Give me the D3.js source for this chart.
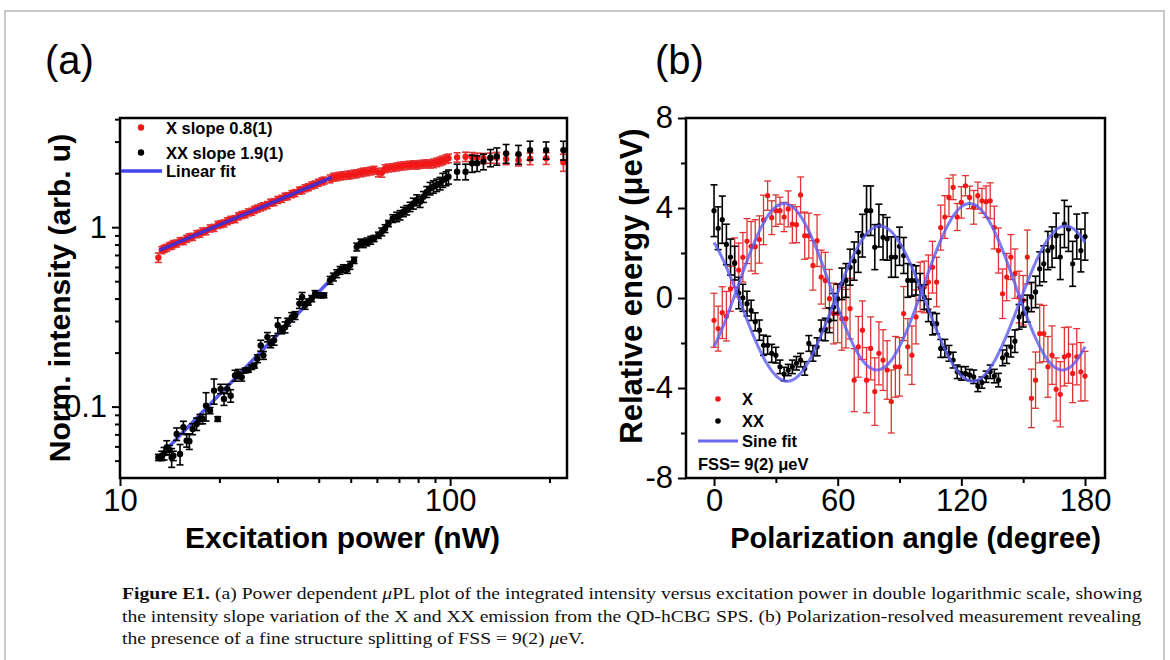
<!DOCTYPE html>
<html>
<head>
<meta charset="utf-8">
<script src="https://cdn.jsdelivr.net/npm/d3@7"></script>
<style>
    body { margin: 0; background: #fff; }
    svg { display: block; }
</style>
</head>
<body>
<div class="fig"></div>
<script>
// ---------- panel (a): power dependence ----------
const power = [13.07, 13.38, 13.60, 13.85, 14.11, 14.34, 14.51, 14.85, 15.20, 15.56,
    15.92, 16.22, 16.60, 17.07, 17.47, 17.80, 18.22, 18.74, 19.27, 19.77,
    20.18, 20.66, 21.14, 21.64, 22.31, 22.84, 23.37, 23.92, 24.48, 25.06,
    25.53, 26.07, 26.69, 27.19, 27.96, 28.61, 29.29, 30.05, 30.90, 31.62,
    32.22, 33.13, 33.91, 34.95, 35.61, 36.36, 37.21, 38.08, 38.98, 39.90,
    40.83, 41.51, 43.29, 44.31, 45.35, 46.42, 47.51, 48.85, 49.77, 51.18,
    52.14, 53.61, 54.62, 55.91, 57.49, 58.84, 60.65, 62.08, 63.53, 65.03,
    67.03, 68.92, 70.54, 72.21, 73.91, 75.64, 77.42, 79.25, 81.11, 83.02,
    84.96, 86.96, 89.00, 91.10, 93.26, 95.00, 97.25, 98.86,
    105.0, 111.4, 116.6, 120.7, 126.2, 132.5, 138.5, 147.8, 161.1, 174.7, 195.4, 220.4]

const intX = [0.677, 0.745, 0.758, 0.768, 0.785, 0.790, 0.806, 0.812, 0.836, 0.838,
    0.862, 0.880, 0.884, 0.915, 0.921, 0.947, 0.951, 0.985, 0.992, 1.03,
    1.04, 1.05, 1.08, 1.10, 1.11, 1.15, 1.17, 1.18, 1.21, 1.22,
    1.25, 1.27, 1.29, 1.31, 1.33, 1.37, 1.38, 1.42, 1.44, 1.48,
    1.49, 1.53, 1.55, 1.60, 1.61, 1.65, 1.67, 1.71, 1.73, 1.77,
    1.80, 1.82, 1.86, 1.90, 1.91, 1.93, 1.94, 1.95, 1.96, 1.98,
    1.99, 2.01, 2.03, 2.04, 2.06, 2.08, 2.02, 2.01, 2.12, 2.14,
    2.15, 2.17, 2.19, 2.20, 2.21, 2.22, 2.23, 2.22, 2.24, 2.25,
    2.26, 2.25, 2.27, 2.30, 2.33, 2.36, 2.40, 2.42,
    2.45, 2.47, 2.46, 2.44, 2.42, 2.43, 2.44, 2.40, 2.36, 2.41, 2.42, 2.30]

// relative errors
const errX = [0.06, 0.045, 0.045, 0.045, 0.045, 0.045, 0.045, 0.045, 0.045, 0.045,
    0.045, 0.045, 0.045, 0.045, 0.045, 0.045, 0.045, 0.045, 0.045, 0.045,
    0.045, 0.045, 0.045, 0.045, 0.045, 0.045, 0.045, 0.045, 0.045, 0.045,
    0.045, 0.045, 0.045, 0.045, 0.045, 0.045, 0.045, 0.045, 0.045, 0.045,
    0.045, 0.045, 0.045, 0.045, 0.045, 0.045, 0.045, 0.045, 0.045, 0.045,
    0.045, 0.045, 0.05, 0.05, 0.05, 0.05, 0.05, 0.05, 0.05, 0.05,
    0.05, 0.05, 0.05, 0.05, 0.05, 0.05, 0.055, 0.055, 0.05, 0.05,
    0.05, 0.05, 0.05, 0.05, 0.05, 0.05, 0.05, 0.05, 0.05, 0.05,
    0.05, 0.05, 0.055, 0.055, 0.055, 0.055, 0.055, 0.055,
    0.06, 0.06, 0.06, 0.06, 0.065, 0.065, 0.07, 0.07, 0.07, 0.075, 0.075, 0.11]

const intXX = [0.0521, 0.0532, 0.0548, 0.0592, 0.0573, 0.0521, 0.0532, 0.0704, 0.0544, 0.0767,
    0.0646, 0.0641, 0.075, 0.080, 0.0853, 0.0853, 0.1013, 0.095, 0.1228, 0.0853,
    0.1256, 0.1104, 0.1256, 0.115, 0.149, 0.152, 0.146, 0.159, 0.160, 0.166,
    0.169, 0.185, 0.219, 0.193, 0.244, 0.224, 0.234, 0.284, 0.268, 0.277,
    0.296, 0.315, 0.322, 0.375, 0.408, 0.367, 0.383, 0.400, 0.426, 0.417,
    0.417, 0.417, 0.506, 0.528, 0.551, 0.575, 0.588, 0.582, 0.613, 0.654,
    0.776, 0.817, 0.810, 0.828, 0.846, 0.865, 0.902, 0.942, 0.983, 1.048,
    1.118, 1.142, 1.167, 1.218, 1.245, 1.299, 1.356, 1.415, 1.385, 1.477,
    1.574, 1.644, 1.680, 1.717, 1.754, 1.830, 1.870, 1.910,
    2.04, 2.04, 2.27, 2.27, 2.32, 2.44, 2.49, 2.58, 2.55, 2.69, 2.69, 2.69]

const errXX = [0.04, 0.06, 0.08, 0.09, 0.06, 0.12, 0.06, 0.08, 0.13, 0.08,
    0.08, 0.10, 0.07, 0.08, 0.06, 0.06, 0.18, 0.04, 0.16, 0.03,
    0.06, 0.08, 0.06, 0.08, 0.07, 0.06, 0.05, 0.03, 0.03, 0.03,
    0.03, 0.05, 0.07, 0.05, 0.06, 0.05, 0.06, 0.10, 0.05, 0.07,
    0.05, 0.06, 0.05, 0.06, 0.06, 0.05, 0.04, 0.04, 0.04, 0.03,
    0.03, 0.03, 0.05, 0.05, 0.05, 0.05, 0.05, 0.05, 0.05, 0.04,
    0.05, 0.05, 0.05, 0.05, 0.05, 0.04, 0.04, 0.05, 0.05, 0.04,
    0.05, 0.06, 0.06, 0.06, 0.06, 0.06, 0.07, 0.07, 0.07, 0.07,
    0.07, 0.08, 0.08, 0.08, 0.08, 0.09, 0.09, 0.09,
    0.10, 0.10, 0.11, 0.10, 0.10, 0.11, 0.11, 0.12, 0.12, 0.12, 0.11, 0.12]

// linear fits (end points in log-log)
const fitLineX = [[13.2, 0.744], [43.8, 1.896]]
const fitLineXX = [[14.0, 0.0592], [44.5, 0.533]]

const ticksA_x = [10, 100]
const minorA_x = [20, 30, 40, 50, 60, 70, 80, 90, 200]
const ticksA_y = [0.1, 1]
const minorA_y = [0.05, 0.06, 0.07, 0.08, 0.09, 0.2, 0.3, 0.4, 0.5, 0.6, 0.7, 0.8, 0.9, 2, 3, 4]

// ---------- panel (b): polarization ----------
const angle = [0, 2, 4, 6, 8, 10, 12, 14, 16, 18, 20, 22, 24, 26, 28, 30, 32, 34, 36, 38,
    40, 42, 44, 46, 48, 50, 52, 54, 56, 58, 60, 62, 64, 66, 68, 70, 72, 74, 76, 78,
    80, 82, 84, 86, 88, 90, 92, 94, 96, 98, 100, 102, 104, 106, 108, 110, 112, 114, 116, 118,
    120, 122, 124, 126, 128, 130, 132, 134, 136, 138, 140, 142, 144, 146, 148, 150, 152, 154, 156, 158,
    160, 162, 164, 166, 168, 170, 172, 174, 176, 178, 180]

const energyX = [-0.99, -1.36, -0.65, -0.81, 0.41, 1.57, 1.24, 1.81, 2.53, 2.30,
    2.28, 2.60, 3.47, 4.55, 3.57, 3.88, 3.88, 3.60, 3.96, 3.29,
    3.26, 4.58, 2.77, 2.77, 1.45, 2.55, 0.93, 0.78, -0.03, -0.69,
    -0.69, -0.92, -0.92, -0.47, -3.65, -2.17, -1.43, -3.65, -2.24, -4.16,
    -2.46, -2.76, -3.20, -4.60, -3.06, -3.06, -0.69, -2.17, -2.54, -0.84,
    0.49, 0.49, 0.71, 1.37, 0.71, 3.13, 3.60, 4.47, 4.92, 3.60,
    4.25, 4.99, 4.47, 4.03, 4.55, 4.32, 4.28, 4.32, 3.13, 2.11,
    0.19, 0.93, 1.82, 1.08, 0.04, -0.10, 1.82, -4.46, -3.65, -1.58,
    -1.58, -3.06, -2.54, -4.06, -4.28, -2.61, -2.54, -3.35, -2.61, -3.28, -3.47]

const errEX = [1.2, 1.0, 1.15, 1.1, 1.0, 1.1, 1.2, 1.1, 1.0, 1.1,
    1.2, 1.05, 1.1, 0.65, 0.75, 0.7, 0.6, 0.65, 0.8, 0.85,
    0.8, 0.8, 1.05, 1.0, 1.1, 1.15, 1.2, 1.25, 1.3, 1.35,
    1.3, 1.4, 1.3, 1.35, 1.4, 1.35, 1.3, 1.45, 1.4, 1.5,
    1.4, 1.35, 1.3, 1.4, 1.35, 1.3, 1.2, 1.25, 1.3, 1.2,
    1.1, 1.15, 1.2, 1.15, 1.1, 1.0, 0.95, 0.85, 0.55, 0.6,
    0.7, 0.45, 0.5, 0.75, 0.6, 0.55, 0.7, 0.8, 0.95, 1.0,
    1.1, 1.05, 1.0, 1.1, 1.15, 1.1, 1.2, 1.3, 1.25, 1.3,
    1.25, 1.35, 1.3, 1.4, 1.45, 1.3, 1.25, 1.3, 1.25, 1.3, 1.1]

const energyXX = [3.88, 3.10, 3.48, 2.38, 1.82, 1.55, 0.22, 0.01, -0.25, -0.55,
    -1.06, -1.43, -2.10, -2.10, -2.46, -2.54, -3.06, -3.38, -3.20, -3.06,
    -2.90, -2.76, -3.13, -2.02, -2.46, -2.17, -1.43, -1.40, -0.99, -0.40,
    -0.03, 0.63, 0.78, 1.37, 1.64, 2.04, 2.77, 3.88, 3.88, 2.26,
    3.22, 2.70, 2.63, 1.82, 1.82, 2.30, 1.89, 0.78, 0.78, 0.78,
    0.49, 0.04, -0.55, -1.14, -1.14, -2.24, -2.24, -2.46, -2.76, -3.28,
    -3.35, -3.35, -3.42, -3.50, -3.91, -3.76, -3.50, -3.28, -3.47, -3.65,
    -2.66, -2.51, -2.17, -1.92, -0.84, -0.69, -0.47, 0.04, 0.27, 1.30,
    1.52, 2.11, 2.26, 2.77, 1.82, 3.29, 3.07, 1.52, 2.73, 2.11, 2.73]

const errEXX = [1.15, 0.95, 1.05, 0.9, 0.8, 0.75, 0.7, 0.6, 0.55, 0.45,
    0.4, 0.45, 0.45, 0.4, 0.4, 0.35, 0.3, 0.3, 0.25, 0.3,
    0.3, 0.3, 0.3, 0.35, 0.35, 0.4, 0.45, 0.5, 0.55, 0.6,
    0.65, 0.7, 0.75, 0.8, 0.85, 0.9, 0.95, 1.1, 1.1, 1.0,
    0.95, 1.0, 0.95, 0.9, 0.9, 0.85, 0.8, 0.75, 0.7, 0.65,
    0.6, 0.55, 0.5, 0.5, 0.45, 0.4, 0.4, 0.35, 0.35, 0.3,
    0.3, 0.3, 0.25, 0.3, 0.25, 0.25, 0.25, 0.3, 0.3, 0.3,
    0.35, 0.4, 0.45, 0.5, 0.55, 0.6, 0.6, 0.65, 0.7, 0.75,
    0.8, 0.85, 0.9, 1.0, 1.0, 1.05, 1.0, 1.0, 1.0, 0.95, 1.05]

// sine fit parameters: offset, amplitude, peak angle, period (deg)
const sineX = { offset: 0.5, amp: 3.7, peak: 34, period: 90 }
const sineXX = { offset: -0.25, amp: 3.45, peak: 80.5, period: 90 }

const ticksB_x = [0, 60, 120, 180]
const minorB_x = [30, 90, 150]
const ticksB_y = [-8, -4, 0, 4, 8]
const minorB_y = [-6, -2, 2, 6]

const captionLines = [
    [["b", "Figure E1."], ["", " (a) Power dependent "], ["i", "μ"], ["", "PL plot of the integrated intensity versus excitation power in double logarithmic scale, showing"]],
    [["", "the intensity slope variation of the X and XX emission from the QD-hCBG SPS. (b) Polarization-resolved measurement revealing"]],
    [["", "the presence of a fine structure splitting of FSS = 9(2) "], ["i", "μ"], ["", "eV."]]
]

// ---------- drawing ----------
const W = 1170, H = 660
const RED = '#f21818', RED_BAR = '#e03434', BLUE = '#4545f0'
const SANS = '"Liberation Sans", Arial, Helvetica, sans-serif'

const svg = d3.select('.fig').append('svg')
    .attr('width', W)
    .attr('height', H)
    .style('font-family', SANS)

svg.append('rect').attr('width', W).attr('height', H).attr('fill', '#fff')
svg.append('rect')
    .attr('x', 5).attr('y', 11).attr('width', 1159).attr('height', 700)
    .attr('fill', 'none').attr('stroke', '#c9c9c9').attr('stroke-width', 2)

// panel letters
svg.append('text').attr('x', 45).attr('y', 74).text('(a)')
    .style('font-family', '"Liberation Sans Narrow", "Liberation Sans", sans-serif')
    .style('font-stretch', 'condensed').attr('font-size', 40)
svg.append('text').attr('x', 655).attr('y', 74).text('(b)')
    .style('font-family', '"Liberation Sans Narrow", "Liberation Sans", sans-serif')
    .style('font-stretch', 'condensed').attr('font-size', 40)

function drawTicks(g, axis, values, size, fmt, pad) {
    const a = axis.tickValues(values).tickSize(size).tickPadding(pad || 6).tickFormat(fmt)
    g.call(a)
    g.select('.domain').remove()
    g.selectAll('.tick line').attr('stroke', '#000').attr('stroke-width', 2)
    g.selectAll('.tick text').attr('fill', '#000').attr('font-size', 31).style('font-family', SANS)
}

function frame(x0, y0, x1, y1) {
    svg.append('rect')
        .attr('x', x0).attr('y', y0).attr('width', x1 - x0).attr('height', y1 - y0)
        .attr('fill', 'none').attr('stroke', '#000').attr('stroke-width', 2.5)
}

// ===== panel (a) =====
const A = { left: 120, right: 567, top: 118, bottom: 478 }
const xA = d3.scaleLog().domain([10, 226]).range([A.left, A.right])
const yA = d3.scaleLog().domain([0.04, 4.06]).range([A.bottom, A.top])

const gA = svg.append('g')
gA.append('clipPath').attr('id', 'clipA').append('rect')
    .attr('x', A.left).attr('y', A.top).attr('width', A.right - A.left).attr('height', A.bottom - A.top)

drawTicks(gA.append('g').attr('transform', `translate(0,${A.bottom})`), d3.axisBottom(xA), minorA_x, 5, () => '')
drawTicks(gA.append('g').attr('transform', `translate(0,${A.bottom})`), d3.axisBottom(xA), ticksA_x, 8, d3.format('d'), 3)
drawTicks(gA.append('g').attr('transform', `translate(${A.left},0)`), d3.axisLeft(yA), minorA_y, 5, () => '')
drawTicks(gA.append('g').attr('transform', `translate(${A.left},0)`), d3.axisLeft(yA), ticksA_y, 8, d => d === 1 ? '1' : '0.1', 5)

const plotA = gA.append('g').attr('clip-path', 'url(#clipA)')

function logErrors(g, xs, ys, errs, color, width) {
    const rows = xs.map((x, i) => ({ x: x, lo: ys[i] * (1 - errs[i]), hi: ys[i] * (1 + errs[i]) }))
    const e = g.append('g').attr('stroke', color).attr('stroke-width', width)
    e.selectAll('line.v').data(rows).join('line')
        .attr('x1', d => xA(d.x)).attr('x2', d => xA(d.x))
        .attr('y1', d => yA(d.lo)).attr('y2', d => yA(d.hi))
    e.selectAll('line.c1').data(rows).join('line').attr('class', 'c1')
        .attr('x1', d => xA(d.x) - 3.5).attr('x2', d => xA(d.x) + 3.5)
        .attr('y1', d => yA(d.hi)).attr('y2', d => yA(d.hi))
    e.selectAll('line.c2').data(rows).join('line').attr('class', 'c2')
        .attr('x1', d => xA(d.x) - 3.5).attr('x2', d => xA(d.x) + 3.5)
        .attr('y1', d => yA(d.lo)).attr('y2', d => yA(d.lo))
}

logErrors(plotA, power, intX, errX, RED_BAR, 1.6)
plotA.append('g').selectAll('circle').data(power).join('circle')
    .attr('cx', d => xA(d)).attr('cy', (d, i) => yA(intX[i])).attr('r', 3.2).attr('fill', RED)

const lineA = d3.line().x(d => xA(d[0])).y(d => yA(d[1]))
plotA.append('path').attr('d', lineA(fitLineX))
    .attr('stroke', '#3a2fd8').attr('stroke-width', 3.5).attr('fill', 'none').attr('opacity', 0.9)
plotA.append('path').attr('d', lineA(fitLineXX))
    .attr('stroke', BLUE).attr('stroke-width', 3.5).attr('fill', 'none').attr('opacity', 0.9)

logErrors(plotA, power, intXX, errXX, '#000', 1.6)
plotA.append('g').selectAll('circle').data(power).join('circle')
    .attr('cx', d => xA(d)).attr('cy', (d, i) => yA(intXX[i])).attr('r', 3.2).attr('fill', '#000')

frame(A.left, A.top, A.right, A.bottom)

// legend (a)
const legA = svg.append('g').attr('font-weight', 'bold').attr('font-size', 16.5)
legA.append('circle').attr('cx', 141).attr('cy', 127.5).attr('r', 3.2).attr('fill', RED)
legA.append('text').attr('x', 166).attr('y', 134).text('X slope 0.8(1)')
legA.append('circle').attr('cx', 141).attr('cy', 152.5).attr('r', 3.2).attr('fill', '#000')
legA.append('text').attr('x', 166).attr('y', 159).text('XX slope 1.9(1)')
legA.append('line').attr('x1', 121).attr('x2', 162).attr('y1', 171).attr('y2', 171)
    .attr('stroke', BLUE).attr('stroke-width', 3.5)
legA.append('text').attr('x', 166).attr('y', 177).text('Linear fit')

svg.append('text').attr('x', (A.left + A.right) / 2 - 1).attr('y', 548)
    .attr('text-anchor', 'middle').attr('font-weight', 'bold').attr('font-size', 30)
    .text('Excitation power (nW)')
svg.append('text')
    .attr('transform', `translate(70,${(A.top + A.bottom) / 2}) rotate(-90)`)
    .attr('text-anchor', 'middle').attr('font-weight', 'bold').attr('font-size', 30)
    .text('Norm. intensity (arb. u)')

// ===== panel (b) =====
const B = { left: 686, right: 1105, top: 118, bottom: 478 }
const xB = d3.scaleLinear().domain([-13.6, 189.7]).range([B.left, B.right])
const yB = d3.scaleLinear().domain([-8, 8]).range([B.bottom, B.top])

const gB = svg.append('g')
drawTicks(gB.append('g').attr('transform', `translate(0,${B.bottom})`), d3.axisBottom(xB), minorB_x, 5, () => '')
drawTicks(gB.append('g').attr('transform', `translate(0,${B.bottom})`), d3.axisBottom(xB), ticksB_x, 8, d3.format('d'), 3)
drawTicks(gB.append('g').attr('transform', `translate(${B.left},0)`), d3.axisLeft(yB), minorB_y, 5, () => '')
drawTicks(gB.append('g').attr('transform', `translate(${B.left},0)`), d3.axisLeft(yB), ticksB_y, 8, d => String(d), 5)

function linErrors(g, xs, ys, errs, color, width) {
    const rows = xs.map((x, i) => ({ x: x, lo: ys[i] - errs[i], hi: ys[i] + errs[i] }))
    const e = g.append('g').attr('stroke', color).attr('stroke-width', width)
    e.selectAll('line.v').data(rows).join('line')
        .attr('x1', d => xB(d.x)).attr('x2', d => xB(d.x))
        .attr('y1', d => yB(d.lo)).attr('y2', d => yB(d.hi))
    e.selectAll('line.c1').data(rows).join('line').attr('class', 'c1')
        .attr('x1', d => xB(d.x) - 3.5).attr('x2', d => xB(d.x) + 3.5)
        .attr('y1', d => yB(d.hi)).attr('y2', d => yB(d.hi))
    e.selectAll('line.c2').data(rows).join('line').attr('class', 'c2')
        .attr('x1', d => xB(d.x) - 3.5).attr('x2', d => xB(d.x) + 3.5)
        .attr('y1', d => yB(d.lo)).attr('y2', d => yB(d.lo))
}

linErrors(gB, angle, energyX, errEX, RED_BAR, 1.3)
gB.append('g').selectAll('circle').data(angle).join('circle')
    .attr('cx', d => xB(d)).attr('cy', (d, i) => yB(energyX[i])).attr('r', 2.6).attr('fill', RED)

linErrors(gB, angle, energyXX, errEXX, '#000', 1.6)
gB.append('g').selectAll('circle').data(angle).join('circle')
    .attr('cx', d => xB(d)).attr('cy', (d, i) => yB(energyXX[i])).attr('r', 2.6).attr('fill', '#000')

// sine fit curves
const fitAngles = d3.range(0, 180.25, 0.5)
const sineLine = p => d3.line()
    .x(d => xB(d))
    .y(d => yB(p.offset + p.amp * Math.cos(2 * Math.PI * (d - p.peak) / p.period)))
    .curve(d3.curveBasis)(fitAngles)
gB.append('path').attr('d', sineLine(sineX))
    .attr('stroke', '#5c5cf0').attr('stroke-width', 3).attr('fill', 'none').attr('opacity', 0.8)
gB.append('path').attr('d', sineLine(sineXX))
    .attr('stroke', '#5c5cf0').attr('stroke-width', 3).attr('fill', 'none').attr('opacity', 0.8)

frame(B.left, B.top, B.right, B.bottom)

// legend (b)
const legB = svg.append('g').attr('font-weight', 'bold').attr('font-size', 16.5)
legB.append('circle').attr('cx', 718).attr('cy', 399).attr('r', 2.8).attr('fill', RED)
legB.append('text').attr('x', 742).attr('y', 405).text('X')
legB.append('circle').attr('cx', 718).attr('cy', 421).attr('r', 2.8).attr('fill', '#000')
legB.append('text').attr('x', 742).attr('y', 427).text('XX')
legB.append('line').attr('x1', 698).attr('x2', 738).attr('y1', 441).attr('y2', 441)
    .attr('stroke', '#6a6af0').attr('stroke-width', 3)
legB.append('text').attr('x', 742).attr('y', 447).text('Sine fit')
legB.append('text').attr('x', 698).attr('y', 470).text('FSS= 9(2) μeV')

svg.append('text').attr('x', (B.left + B.right) / 2 + 20).attr('y', 548)
    .attr('text-anchor', 'middle').attr('font-weight', 'bold').attr('font-size', 29)
    .text('Polarization angle (degree)')
svg.append('text')
    .attr('transform', `translate(642,${(B.top + B.bottom) / 2 - 12}) rotate(-90)`)
    .attr('text-anchor', 'middle').attr('font-weight', 'bold').attr('font-size', 31)
    .text('Relative energy (μeV)')

// caption: scale every line by the factor that makes line 2 fit its measured width
const cap = svg.append('g').style('font-family', '"Liberation Serif", "Times New Roman", serif')
    .attr('font-size', 17.5).attr('fill', '#111')
const capTexts = captionLines.map((line, i) => {
    const t = cap.append('text').attr('x', 122).attr('y', 599 + i * 22.5)
    line.forEach(([style, s]) => {
        const ts = t.append('tspan').text(s)
        if (style === 'b') ts.attr('font-weight', 'bold')
        if (style === 'i') ts.attr('font-style', 'italic')
    })
    return t
})
const natural = capTexts.map(t => t.node().getComputedTextLength())
const k = 1019 / natural[1]
capTexts.forEach((t, i) => {
    const len = i === 0 ? 1020 : natural[i] * k
    t.attr('textLength', len).attr('lengthAdjust', 'spacingAndGlyphs')
})
</script>
</body>
</html>
